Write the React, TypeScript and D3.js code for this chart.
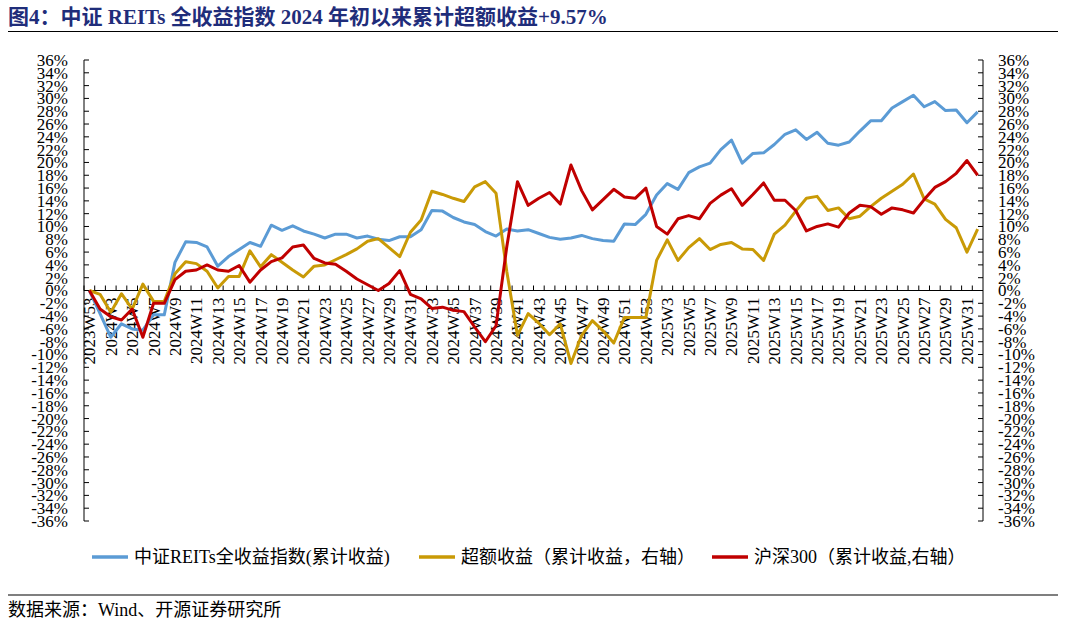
import React from "react";
import * as d3 from "d3";

const weeks: string[] = [
  "2023W53",
  ...d3.range(2, 54).map((w) => `2024W${w}`),
  ...d3.range(2, 33).map((w) => `2025W${w}`),
];

// 中证REITs全收益指数 (累计收益, 左轴)
const reitsReturn = [
  0, -3.6, -7.3, -5.2, -6.0, -6.2, -3.8, -3.8, 4.4, 7.6,
  7.5, 6.8, 3.8, 5.3, 6.4, 7.5, 6.9, 10.2, 9.4, 10.1,
  9.3, 8.8, 8.2, 8.8, 8.8, 8.2, 8.5, 8.0, 7.8, 8.4,
  8.4, 9.5, 12.5, 12.4, 11.4, 10.7, 10.3, 9.2, 8.5, 9.6,
  9.3, 9.5, 8.9, 8.3, 8.0, 8.2, 8.6, 8.1, 7.8, 7.7,
  10.4, 10.3, 11.9, 14.9, 16.7, 15.8, 18.4, 19.3, 19.9, 22.0,
  23.5, 19.9, 21.4, 21.5, 22.8, 24.4, 25.1, 23.6, 24.7, 23.0,
  22.7, 23.2, 24.9, 26.5, 26.5, 28.5, 29.5, 30.5, 28.7, 29.5,
  28.1, 28.2, 26.2, 27.9,
];

// 超额收益 (累计收益, 右轴)
const excessReturn = [
  0, -0.6, -3.4, -0.5, -2.9, 1.0, -1.7, -1.7, 2.6, 4.5,
  4.2, 3.0, 0.4, 2.2, 2.2, 6.2, 3.7, 5.6, 4.4, 3.2,
  2.1, 3.8, 4.0, 4.8, 5.6, 6.5, 7.7, 8.1, 6.7, 5.3,
  9.1, 11.0, 15.5, 15.0, 14.4, 13.9, 16.2, 17.0, 15.2, 3.0,
  -7.0, -3.6, -5.1, -6.9, -5.2, -11.4, -7.0, -4.7, -6.3, -8.2,
  -4.2, -4.2, -4.2, 4.7, 7.9, 4.7, 6.7, 8.1, 6.4, 7.2,
  7.5, 6.5, 6.4, 4.7, 8.8, 10.2, 12.4, 14.4, 14.7, 12.5,
  12.9, 11.2, 11.6, 13.1, 14.4, 15.5, 16.6, 18.2, 14.3, 13.5,
  11.1, 9.8, 6.0, 9.57,
];

// 沪深300 (累计收益, 右轴)
const hs300Return = [
  0, -2.9, -4.1, -4.6, -2.9, -7.3, -2.0, -2.0, 1.7, 3.0,
  3.2, 4.0, 3.2, 3.0, 3.9, 1.3, 3.2, 4.5, 5.1, 6.8,
  7.1, 5.0, 4.3, 4.1, 3.0, 1.8, 0.9, 0.0, 1.1, 3.1,
  -0.6, -1.3, -2.8, -2.6, -3.1, -3.3, -5.7, -8.0, -5.5, 6.8,
  17.0, 13.3, 14.4, 15.3, 13.5, 19.6, 15.6, 12.6, 14.2, 15.8,
  14.6, 14.4, 16.0, 10.0, 8.8, 11.2, 11.7, 11.2, 13.6, 14.9,
  15.9, 13.3, 15.0, 16.8, 14.1, 14.1, 12.5, 9.3, 10.0, 10.4,
  9.9, 12.1, 13.3, 13.1, 11.9, 12.9, 12.6, 12.1, 14.2, 16.1,
  17.0, 18.3, 20.3, 18.0,
];

const yTicks = d3.range(-36, 37, 2);

const series = [
  { name: "中证REITs全收益指数(累计收益)", values: reitsReturn, color: "#5B9BD5", axis: "left" },
  { name: "超额收益（累计收益，右轴）", values: excessReturn, color: "#C99A06", axis: "right" },
  { name: "沪深300（累计收益,右轴）", values: hs300Return, color: "#C00000", axis: "right" },
];

const W = 1066;
const H = 623;
const plot = { left: 84, right: 983, top: 60, bottom: 521 };
const serif = "'Liberation Serif', 'Times New Roman', 'Noto Sans CJK SC', serif";

export default function App() {
  const x = d3
    .scaleBand<string>()
    .domain(weeks)
    .range([plot.left, plot.right])
    .padding(0);
  const bw = x.bandwidth();
  const cx = (w: string) => (x(w) ?? 0) + bw / 2;

  // both axes share the same -36%..36% range
  const yLeft = d3.scaleLinear().domain([-36, 36]).range([plot.bottom, plot.top]);
  const yRight = d3.scaleLinear().domain([-36, 36]).range([plot.bottom, plot.top]);
  const y0 = yLeft(0);

  const line = (vals: number[], y: d3.ScaleLinear<number, number>) =>
    d3
      .line<number>()
      .x((_, i) => cx(weeks[i]))
      .y((d) => y(d))(vals) ?? "";

  const legendPos = [92, 419, 712];

  return (
    <svg
      width={W}
      height={H}
      style={{ position: "absolute", left: 0, top: 0, background: "#fff" }}
      fontFamily={serif}
    >
      {/* title */}
      <text x={8} y={24} fontSize={21} fontWeight="bold" fill="#1F2D7A">
        图4：中证 REITs 全收益指数 2024 年初以来累计超额收益+9.57%
      </text>
      <line x1={8} x2={1058} y1={31.5} y2={31.5} stroke="#000" strokeWidth={1.2} />

      {/* left axis */}
      <line x1={plot.left} x2={plot.left} y1={plot.top} y2={plot.bottom} stroke="#000" />
      {yTicks.map((t) => (
        <g key={`l${t}`}>
          <line x1={plot.left} x2={plot.left + 5} y1={yLeft(t)} y2={yLeft(t)} stroke="#000" />
          <text x={68} y={yLeft(t)} dy="0.35em" textAnchor="end" fontSize={17} fill="#000">
            {`${t}%`}
          </text>
        </g>
      ))}

      {/* right axis */}
      <line x1={plot.right} x2={plot.right} y1={plot.top} y2={plot.bottom} stroke="#000" />
      {yTicks.map((t) => (
        <g key={`r${t}`}>
          <line x1={plot.right - 5} x2={plot.right} y1={yRight(t)} y2={yRight(t)} stroke="#000" />
          <text x={998} y={yRight(t)} dy="0.35em" textAnchor="start" fontSize={17} fill="#000">
            {`${t}%`}
          </text>
        </g>
      ))}

      {/* category axis on zero line */}
      <line x1={plot.left} x2={plot.right} y1={y0} y2={y0} stroke="#000" />
      {weeks.map((w) => (
        <line key={`t${w}`} x1={x(w)} x2={x(w)} y1={y0 - 5} y2={y0} stroke="#000" />
      ))}
      {weeks.map((w, i) =>
        i % 2 === 0 ? (
          <text
            key={`x${w}`}
            transform={`translate(${cx(w)},${y0 + 7}) rotate(-90)`}
            textAnchor="end"
            dy="0.35em"
            fontSize={17}
            fill="#000"
          >
            {w}
          </text>
        ) : null
      )}

      {/* lines */}
      {series.map((s) => (
        <path
          key={s.name}
          d={line(s.values, s.axis === "left" ? yLeft : yRight)}
          fill="none"
          stroke={s.color}
          strokeWidth={3}
          strokeLinejoin="round"
        />
      ))}

      {/* legend */}
      {series.map((s, i) => (
        <g key={`lg${i}`} transform={`translate(${legendPos[i]},557)`}>
          <line x1={0} x2={36} y1={0} y2={0} stroke={s.color} strokeWidth={3.5} />
          <text x={42} y={0} dy="0.35em" fontSize={18} fill="#000">
            {s.name}
          </text>
        </g>
      ))}

      {/* footer */}
      <line x1={8} x2={1058} y1={595} y2={595} stroke="#7F7F7F" strokeWidth={2} />
      <text x={8} y={616} fontSize={18} fill="#000">
        数据来源：Wind、开源证券研究所
      </text>
    </svg>
  );
}
